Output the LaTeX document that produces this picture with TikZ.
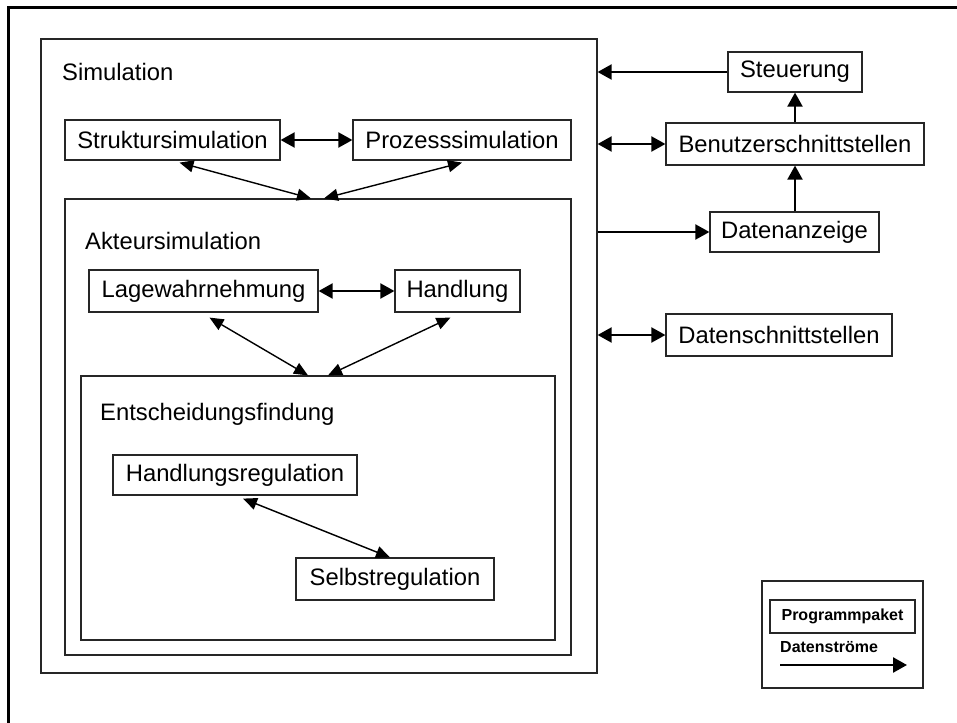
\documentclass[tikz,border=0pt]{standalone}
\usepackage{fontspec}
\setmainfont{Liberation Sans}
\usetikzlibrary{arrows.meta}
\tikzset{
  pkg/.style={draw=black!85, line width=1.2bp, fill=white, inner sep=0pt,
    font=\fontsize{23.8bp}{28bp}\selectfont},
  frame/.style={draw=black!85, line width=1.2bp, inner sep=0pt},
  lbl/.style={anchor=west, inner sep=0pt, font=\fontsize{23.8bp}{28bp}\selectfont},
  head/.tip={Triangle[length=14bp,width=15bp]},
  smallhead/.tip={Triangle[length=14bp,width=12bp]},
  flow/.style={line width=2bp, -head},
  flowboth/.style={line width=2bp, head-head},
  link/.style={line width=1.4bp, smallhead-smallhead},
}
\begin{document}
\begin{tikzpicture}[x=1bp, y=-1bp]
\useasboundingbox (0,0) rectangle (957,723);
% page frame, open to the right and bottom
\draw[line width=3bp] (8,723) -- (8,8) -- (957,8);

% nested containers
\node[frame, minimum width=556bp, minimum height=634bp] (Sim) at (319,356) {};
\node[lbl] (SimL) at (62,72) {Simulation};
\node[frame, minimum width=506bp, minimum height=456bp] (Akt) at (318,427) {};
\node[lbl] (AktL) at (85,241) {Akteursimulation};
\node[frame, minimum width=474bp, minimum height=264bp] (Ent) at (318,508) {};
\node[lbl] (EntL) at (100,414) {Entscheidungsfindung};

% packages inside the simulation
\node[pkg, minimum width=215bp, minimum height=40bp] (Strukt) at (172.5,140) {Struktursimulation};
\node[pkg, minimum width=218bp, minimum height=40bp] (Proz) at (462,140) {Prozesssimulation};
\node[pkg, minimum width=229bp, minimum height=42bp] (Lage) at (203.5,291) {Lagewahrnehmung};
\node[pkg, minimum width=125bp, minimum height=42bp] (Handl) at (457.5,291) {Handlung};
\node[pkg, minimum width=244bp, minimum height=40bp] (HReg) at (235,475) {Handlungsregulation};
\node[pkg, minimum width=198bp, minimum height=42bp] (Selbst) at (395,579) {Selbstregulation};

% outside packages
\node[pkg, minimum width=134bp, minimum height=40bp] (Steu) at (795,72) {Steuerung};
\node[pkg, minimum width=258bp, minimum height=42bp] (Benu) at (795,144) {Benutzerschnittstellen};
\node[pkg, minimum width=169bp, minimum height=40bp] (Anz) at (794.5,232) {Datenanzeige};
\node[pkg, minimum width=226bp, minimum height=42bp] (DSchn) at (779,335) {Datenschnittstellen};

% legend
\node[frame, minimum width=161bp, minimum height=107bp] (Leg) at (842.5,634.5) {};
\node[pkg, minimum width=145bp, minimum height=33bp, font=\fontsize{16bp}{19bp}\selectfont\bfseries] (Prog) at (842.5,616.5) {Programmpaket};
\node[anchor=west, inner sep=0pt, font=\fontsize{16bp}{19bp}\selectfont\bfseries] (DStr) at (780,647) {Datenströme};
\coordinate (legA) at (780,665);
\coordinate (legB) at (907,665);
\draw[flow, line width=2.5bp] (legA) -- (legB);

% flows inside the simulation
\draw[flowboth] (Strukt.east) -- (Proz.west);
\draw[flowboth] (Lage.east) -- (Handl.west);
\draw[link] ([xshift=7bp,yshift=-2bp]Strukt.south) -- ([xshift=-7bp]Akt.north);
\draw[link] ([yshift=-2bp]Proz.south) -- ([xshift=6bp]Akt.north);
\draw[link] ([xshift=6bp,yshift=-5bp]Lage.south) -- ([xshift=-10bp]Ent.north);
\draw[link] ([xshift=-7bp,yshift=-5bp]Handl.south) -- ([xshift=10bp]Ent.north);
\draw[link] ([xshift=8bp,yshift=-3bp]HReg.south) -- ([xshift=-5bp]Selbst.north);

% flows to and from the simulation
\draw[flow] (Steu.west) -- (Sim.east |- Steu.west);
\draw[flowboth] (Sim.east |- Benu.west) -- (Benu.west);
\draw[flow] (Sim.east |- Anz.west) -- (Anz.west);
\draw[flowboth] (Sim.east |- DSchn.west) -- (DSchn.west);
\draw[flow] (Benu.north) -- (Steu.south);
\draw[flow] (Anz.north -| Benu.south) -- (Benu.south);
\end{tikzpicture}
\end{document}
